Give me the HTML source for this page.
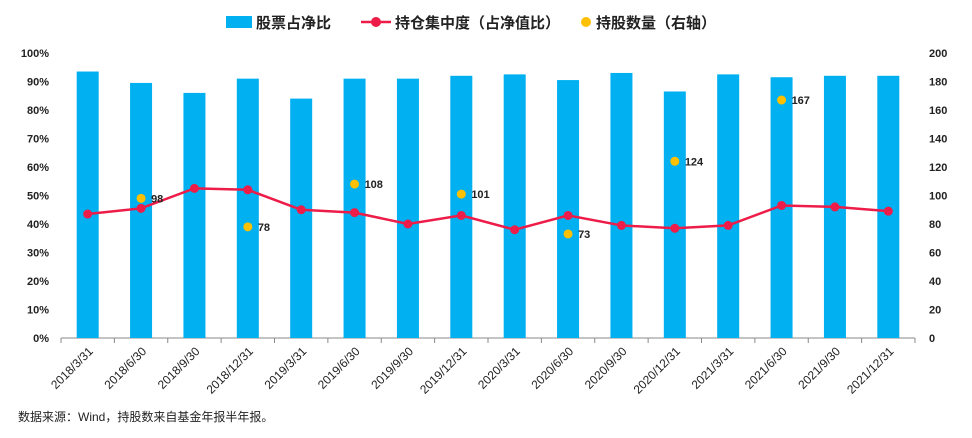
<!DOCTYPE html>
<html><head><meta charset="utf-8"><style>
body{margin:0;background:#fff;width:972px;height:433px;overflow:hidden;font-family:"Liberation Sans","Noto Sans CJK SC",sans-serif}
svg text{font-family:"Liberation Sans","Noto Sans CJK SC",sans-serif}
</style></head><body>
<svg id="c" width="972" height="433"></svg>
<script>
const categories=["2018/3/31","2018/6/30","2018/9/30","2018/12/31","2019/3/31","2019/6/30","2019/9/30","2019/12/31","2020/3/31","2020/6/30","2020/9/30","2020/12/31","2021/3/31","2021/6/30","2021/9/30","2021/12/31"];
const stockRatio=[93.5,89.5,86,91,84,91,91,92,92.5,90.5,93,86.5,92.5,91.5,92,92];
const concentration=[43.5,45.5,52.5,52,45,44,40,43,38,43,39.5,38.5,39.5,46.5,46,44.5];
const holdingIdx=[1,3,5,7,9,11,13];
const holdings=[98,78,108,101,73,124,167];
const leftTicks=[0,10,20,30,40,50,60,70,80,90,100];
const rightTicks=[0,20,40,60,80,100,120,140,160,180,200];
const NS="http://www.w3.org/2000/svg";
const svg=document.getElementById('c');
const X0=61,X1=915,Y0=338,Y1=53;
const bw=(X1-X0)/categories.length;
const xc=i=>X0+bw*(i+0.5);
const yl=v=>Y0-(v/100)*(Y0-Y1);
const yr=v=>Y0-(v/200)*(Y0-Y1);
function el(t,a,p){const e=document.createElementNS(NS,t);for(const k in a)e.setAttribute(k,a[k]);(p||svg).appendChild(e);return e;}
// axes
let ax=el('line',{x1:X0,y1:Y0,x2:X1,y2:Y0,stroke:'#898989'});


leftTicks.forEach(v=>{let t=el('text',{x:49,y:yl(v)+4,'text-anchor':'end','font-size':11,'font-weight':'bold',fill:'#222'});t.textContent=v+'%';

});
rightTicks.forEach(v=>{let t=el('text',{x:929,y:yr(v)+4,'font-size':11,'font-weight':'bold',fill:'#222'});t.textContent=v;

});
for(let i=0;i<=categories.length;i++){el('line',{x1:X0+bw*i,y1:Y0,x2:X0+bw*i,y2:Y0+5,stroke:'#898989'});}
categories.forEach((c,i)=>{
 let b=el('rect',{x:xc(i)-11,y:yl(stockRatio[i]),width:22,height:Y0-yl(stockRatio[i]),fill:'#00b0f0'});
 
 
 let x=xc(i)+6,y=Y0+14;
 let t=el('text',{x:x,y:y,'text-anchor':'end','font-size':12,fill:'#222',transform:`rotate(-45 ${x} ${y})`});t.textContent=c;
 
 
});
let pts=concentration.map((v,i)=>xc(i)+','+yl(v)).join(' ');
let pl=el('polyline',{points:pts,fill:'none',stroke:'#ed1c48','stroke-width':2.5});


concentration.forEach((v,i)=>{let c=el('circle',{cx:xc(i),cy:yl(v),r:4.5,fill:'#ed1c48'});

});
holdings.forEach((v,k)=>{let i=holdingIdx[k];
 let c=el('circle',{cx:xc(i),cy:yr(v),r:4.5,fill:'#ffc000'});
 
 
 let t=el('text',{x:xc(i)+10,y:yr(v)+4,'font-size':11,'font-weight':'bold',fill:'#222'});t.textContent=v;
 
 });
// legend
const lg=el('g',{});


el('rect',{x:226,y:16,width:26,height:12,fill:'#00b0f0'},lg);
let t1=el('text',{x:256,y:28,'font-size':15,'font-weight':'bold',fill:'#222'},lg);t1.textContent='股票占净比';
el('line',{x1:361,y1:22,x2:391,y2:22,stroke:'#ed1c48','stroke-width':2.5},lg);
el('circle',{cx:376,cy:22,r:5,fill:'#ed1c48'},lg);
let t2=el('text',{x:395,y:28,'font-size':15,'font-weight':'bold',fill:'#222'},lg);t2.textContent='持仓集中度（占净值比）';
el('circle',{cx:586,cy:22,r:5,fill:'#ffc000'},lg);
let t3=el('text',{x:596,y:28,'font-size':15,'font-weight':'bold',fill:'#222'},lg);t3.textContent='持股数量（右轴）';
let src=el('text',{x:18,y:421,'font-size':12,fill:'#222'});src.textContent='数据来源：Wind，持股数来自基金年报半年报。';


</script>
</body></html>
